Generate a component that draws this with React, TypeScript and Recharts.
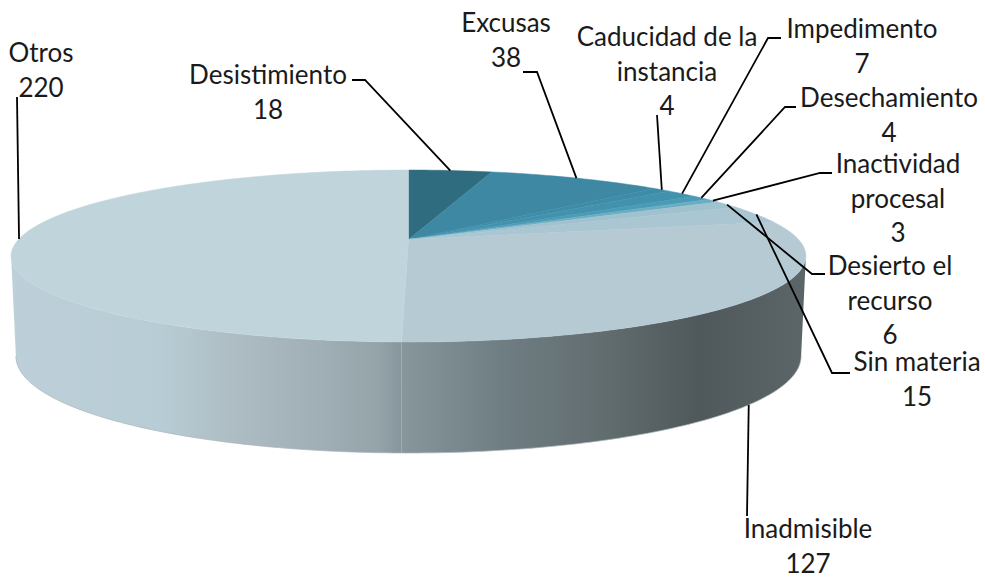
import React from "react";
import { PieChart, Pie } from "recharts";

const categories = ["Desistimiento", "Excusas", "Caducidad de la instancia", "Impedimento", "Desechamiento", "Inactividad procesal", "Desierto el recurso", "Sin materia", "Inadmisible", "Otros"];
const values = [18, 38, 4, 7, 4, 3, 6, 15, 127, 220];
const topColors = ["#2F6C80", "#3E88A4", "#3F8CA8", "#4392AD", "#4A9BB5", "#6BADC2", "#A0C2CE", "#A9C6D2", "#B6CAD4", "#C0D4DC"];

// Perspective of the disc
const CX = 408.5;
const CY = 239.5;
const RX = 390;
const RY = 82.8;
const PERSP = 0.192;
const WALL_BASE = 97.4;
const WALL_SLOPE = 13.6;
const WALL_NARROW = 0.988;

// Label layout: wrapped text, centre x, first baseline, then the leader's knots from label to edge
const labelLayout: Record<string, { lines: string[]; x: number; y: number; knots: number[][]; wall?: boolean }> = {
  Desistimiento: { lines: ["Desistimiento", "18"], x: 268, y: 84, knots: [[352, 80], [365, 80]] },
  Excusas: { lines: ["Excusas", "38"], x: 506, y: 32, knots: [[523, 72], [537, 72]] },
  "Caducidad de la instancia": { lines: ["Caducidad de la", "instancia", "4"], x: 667, y: 46, knots: [[657, 115]] },
  Impedimento: { lines: ["Impedimento", "7"], x: 862, y: 38, knots: [[781, 38], [768, 38]] },
  Desechamiento: { lines: ["Desechamiento", "4"], x: 889, y: 107, knots: [[796, 107], [785, 107]] },
  "Inactividad procesal": { lines: ["Inactividad", "procesal", "3"], x: 898, y: 173, knots: [[832, 173], [820, 173]] },
  "Desierto el recurso": { lines: ["Desierto el", "recurso", "6"], x: 890, y: 275, knots: [[825, 274], [812, 274]] },
  "Sin materia": { lines: ["Sin materia", "15"], x: 917, y: 371, knots: [[850, 373], [832, 373]] },
  Inadmisible: { lines: ["Inadmisible", "127"], x: 808, y: 538, knots: [[747, 516]], wall: true },
  Otros: { lines: ["Otros", "220"], x: 41, y: 62, knots: [[17, 97]] },
};

const rows = categories.map((name, i) => ({ name, value: values[i], fill: topColors[i] }));

const rad = (d: number) => (d * Math.PI) / 180;

function project(theta: number) {
  const u = Math.sin(rad(theta));
  const v = -Math.cos(rad(theta));
  const f = 1 / (1 - PERSP * v);
  return { x: CX + RX * u * f, y: CY + RY * v * f, v };
}

function wallPoint(theta: number) {
  const p = project(theta);
  return { x: CX + (p.x - CX) * WALL_NARROW, y: p.y + WALL_BASE + WALL_SLOPE * p.v };
}

function arcAngles(a: number, b: number) {
  const out: number[] = [];
  const n = Math.max(2, Math.ceil(Math.abs(b - a)));
  for (let i = 0; i <= n; i++) out.push(a + ((b - a) * i) / n);
  return out;
}

const fmt = (pts: { x: number; y: number }[]) => pts.map((p) => `${p.x.toFixed(2)},${p.y.toFixed(2)}`).join(" L ");

const THETA_R = 90 + (Math.asin(PERSP) * 180) / Math.PI;
const THETA_L = 360 - THETA_R;

function Slice(props: any) {
  const a = 90 - props.startAngle;
  const b = 90 - props.endAngle;
  const top = arcAngles(a, b).map(project);
  const topPath = `M ${CX},${CY} L ${fmt(top)} Z`;
  const wa = Math.max(a, THETA_R);
  const wb = Math.min(b, THETA_L);
  const hasWall = wb > wa;
  let wallPath = "";
  let edgePath = "";
  if (hasWall) {
    const angles = arcAngles(wa, wb);
    const upper = angles.map(project);
    const lower = angles.map(wallPoint).reverse();
    wallPath = `M ${fmt(upper)} L ${fmt(lower)} Z`;
    edgePath = `M ${fmt(lower)}`;
  }
  const isRight = wa < 180.5 && wb < 185;
  return (
    <g>
      <defs>
        <linearGradient id="wallRight" gradientUnits="userSpaceOnUse" x1="400" y1="0" x2="805" y2="0">
          <stop offset="0" stopColor="#87979C" />
          <stop offset="0.25" stopColor="#6F7E83" />
          <stop offset="0.5" stopColor="#626D70" />
          <stop offset="0.74" stopColor="#4F585A" />
          <stop offset="1" stopColor="#5C6668" />
        </linearGradient>
        <linearGradient id="wallLeft" gradientUnits="userSpaceOnUse" x1="12" y1="0" x2="405" y2="0">
          <stop offset="0" stopColor="#BDD0D9" />
          <stop offset="0.38" stopColor="#B8CCD5" />
          <stop offset="0.55" stopColor="#AEBEC4" />
          <stop offset="0.8" stopColor="#9FAEB4" />
          <stop offset="0.93" stopColor="#94A4A9" />
          <stop offset="1" stopColor="#84949A" />
        </linearGradient>
      </defs>
      {hasWall && <path d={wallPath} fill={isRight ? "url(#wallRight)" : "url(#wallLeft)"} />}
      {hasWall && <path d={edgePath} fill="none" stroke="#A9B4B8" strokeWidth={0.7} />}
      <path d={topPath} fill={props.fill} stroke={props.fill} strokeWidth={0.5} strokeLinejoin="round" />
    </g>
  );
}

function SliceLabel(props: any) {
  const layout = labelLayout[props.name];
  if (!layout) return null;
  const theta = 90 - props.midAngle;
  const edge = layout.wall ? wallPoint(theta) : project(theta);
  const pts = [...layout.knots.map(([x, y]) => ({ x, y })), edge];
  return (
    <g>
      <polyline points={pts.map((p) => `${p.x},${p.y}`).join(" ")} fill="none" stroke="#000" strokeWidth={1.8} />
      <text textAnchor="middle" fontFamily="Lato, 'Open Sans', sans-serif" fontSize={26} fill="#1A1A1A">
        {layout.lines.map((line, i) => (
          <tspan key={i} x={layout.x} y={layout.y + i * 34.7}>
            {line}
          </tspan>
        ))}
      </text>
    </g>
  );
}

export default function App() {
  return (
    <div style={{ position: "absolute", left: 0, top: 0, width: 985, height: 578, background: "#fff" }}>
      <PieChart width={985} height={578} margin={{ top: 0, right: 0, bottom: 0, left: 0 }}>
        <Pie
          data={rows}
          dataKey="value"
          nameKey="name"
          cx={CX}
          cy={CY}
          outerRadius={100}
          startAngle={90}
          endAngle={-270}
          stroke="none"
          shape={Slice}
          label={SliceLabel}
          labelLine={false}
          isAnimationActive={false}
        />
      </PieChart>
    </div>
  );
}
